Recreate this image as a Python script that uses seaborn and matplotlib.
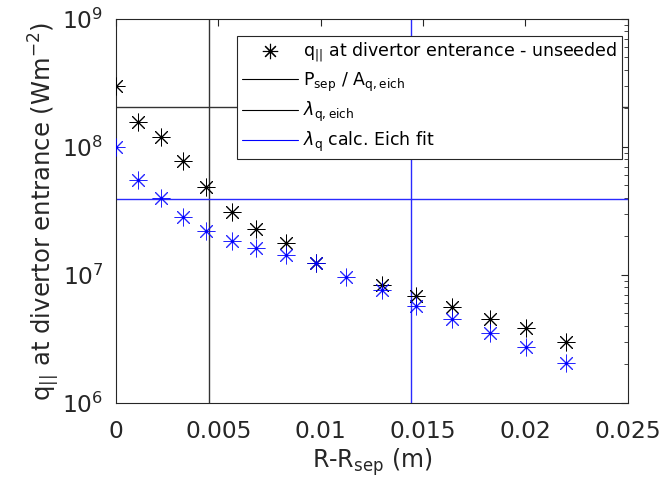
import numpy as np
import pandas as pd
import seaborn as sns
import matplotlib.pyplot as plt
from matplotlib.lines import Line2D

# distancia ao separatrix (m)
x_unseeded = [0, 0.00109, 0.00219, 0.00328, 0.00438, 0.00566, 0.00685, 0.00828,
              0.00977, 0.01298, 0.01467, 0.01642, 0.01826, 0.02003, 0.02197]
q_unseeded = [3.0e8, 1.58e8, 1.2e8, 7.7e7, 4.9e7, 3.1e7, 2.27e7, 1.77e7,
              1.23e7, 8.35e6, 6.9e6, 5.6e6, 4.53e6, 3.83e6, 3.01e6]

x_fit = [0, 0.00109, 0.00219, 0.00328, 0.00438, 0.00566, 0.00685, 0.00828,
         0.00977, 0.01123, 0.01298, 0.01467, 0.01642, 0.01826, 0.02003, 0.02197]
q_fit = [1.0e8, 5.5e7, 3.97e7, 2.86e7, 2.22e7, 1.85e7, 1.62e7, 1.43e7,
         1.23e7, 9.6e6, 7.6e6, 5.7e6, 4.5e6, 3.5e6, 2.75e6, 2.04e6]

# linhas de referencia
psep_over_a = 2.04e8
lambda_q_eich = 0.00456
q_fit_level = 3.95e7
lambda_q_calc = 0.0144

xticks = [0, 0.005, 0.01, 0.015, 0.02, 0.025]
xtick_labels = ['0', '0.005', '0.01', '0.015', '0.02', '0.025']

sns.set_style('white')
plt.rcParams['font.family'] = ['DejaVu Sans']
plt.rcParams['mathtext.fontset'] = 'dejavusans'
gray = '#262626'

df_a = pd.DataFrame({'x': x_unseeded, 'q': q_unseeded})
df_b = pd.DataFrame({'x': x_fit, 'q': q_fit})

fig = plt.figure(figsize=(6.63, 4.86), dpi=100)
ax = fig.add_axes([0.175, 0.171, 0.772, 0.790])

star = (8, 2, 0)
ax.axhline(psep_over_a, color='#333333', lw=1.0, zorder=1)
ax.axvline(lambda_q_eich, color='#333333', lw=1.0, zorder=1)
ax.axhline(q_fit_level, color='#2a2aff', lw=1.0, zorder=1)
ax.axvline(lambda_q_calc, color='#2a2aff', lw=1.0, zorder=1)

sns.scatterplot(data=df_a, x='x', y='q', marker=star, s=150, color='black',
                linewidth=0.7, ax=ax, zorder=3)
sns.scatterplot(data=df_a, x='x', y='q', marker='o', s=5, color='black',
                linewidth=0, ax=ax, zorder=3)
sns.scatterplot(data=df_b, x='x', y='q', marker=star, s=150, color='blue',
                linewidth=0.7, ax=ax, zorder=4, alpha=0.85)
sns.scatterplot(data=df_b, x='x', y='q', marker='o', s=5, color='blue',
                linewidth=0, ax=ax, zorder=4)

ax.set_yscale('log')
ax.set_xlim(0, 0.025)
ax.set_ylim(1e6, 1e9)
ax.set_xticks(xticks)
ax.set_xticklabels(xtick_labels)
ax.set_yticks([1e6, 1e7, 1e8, 1e9])
ax.set_yticklabels([r'$10^{6}$', r'$10^{7}$', r'$10^{8}$', r'$10^{9}$'])
ax.tick_params(which='both', direction='in', top=True, right=True,
               labelsize=16.8, colors=gray)
ax.tick_params(axis='x', pad=12)
ax.tick_params(axis='y', pad=9)
ax.tick_params(which='major', length=5)
ax.tick_params(which='minor', length=3)
for sp in ax.spines.values():
    sp.set_color(gray)
    sp.set_linewidth(0.8)

ax.set_xlabel(r'R-R$_\mathrm{sep}$ (m)', fontsize=17, color=gray, labelpad=3)
ax.set_ylabel(r'q$_{||}$ at divertor entrance (Wm$^{-2}$)', fontsize=17.5,
              color=gray, labelpad=0)

handles = [
    Line2D([], [], ls='none', marker=star, color='black', markersize=11, mew=0.8),
    Line2D([], [], color='black', lw=0.8),
    Line2D([], [], color='black', lw=0.8),
    Line2D([], [], color='blue', lw=0.8),
]
labels = [r'q$_{||}$ at divertor enterance - unseeded',
          r'P$_\mathrm{sep}$ / A$_\mathrm{q,eich}$',
          r'$\lambda_\mathrm{q,eich}$',
          r'$\lambda_\mathrm{q}$ calc. Eich fit']
leg = ax.legend(handles, labels, loc='upper right', bbox_to_anchor=(0.988, 0.956),
                fontsize=12.5, frameon=True, fancybox=False, handlelength=3.2,
                handletextpad=0.3, borderpad=0.3, labelspacing=0.35,
                framealpha=1, borderaxespad=0)
leg.get_frame().set_edgecolor(gray)
leg.get_frame().set_linewidth(0.8)
for t in leg.get_texts():
    t.set_color('black')

fig.savefig('out.png', dpi=100)
